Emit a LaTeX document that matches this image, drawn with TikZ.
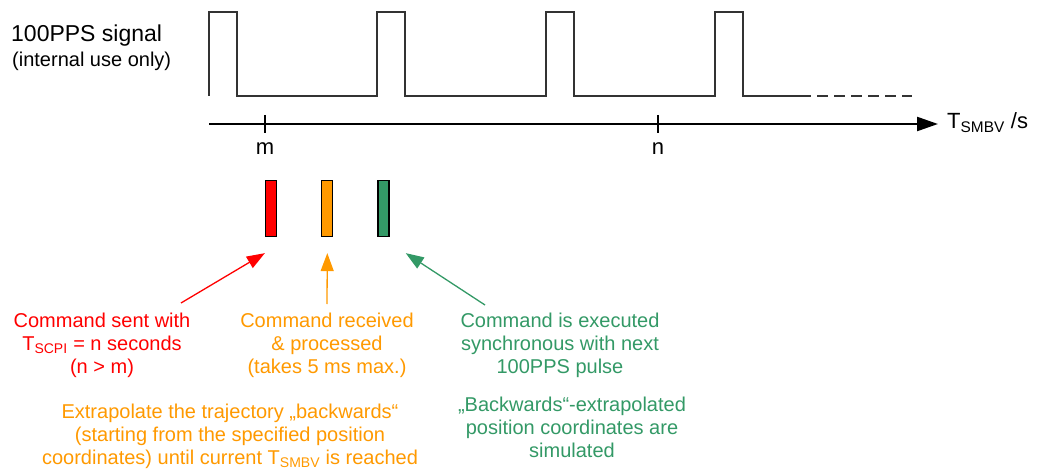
\documentclass[tikz,border=0pt]{standalone}
\usepackage{fontspec}
\setmainfont{Liberation Sans}
\usepackage{xcolor}
\usetikzlibrary{arrows.meta}
\usetikzlibrary{positioning}
\definecolor{sentred}{HTML}{FF0000}
\definecolor{procorange}{HTML}{FF9900}
\definecolor{execgreen}{HTML}{339966}
\tikzstyle{cmdbar} = [rectangle, draw=black, line width=1.3pt,
    minimum width=11pt, minimum height=56pt, inner sep=0pt]
\tikzstyle{note} = [align=center, inner sep=0pt,
    font=\fontsize{20}{23}\selectfont]
\tikzstyle{bignote} = [inner sep=0pt, font=\fontsize{22}{26}\selectfont]
\tikzstyle{signal} = [draw, line width=1.3pt, black!80]
\tikzstyle{axis} = [draw, line width=2.3pt, -{Triangle[length=21pt,width=14pt]}]
\tikzstyle{tick} = [draw, line width=2pt]
\tikzstyle{line} = [draw, line width=1.3pt, -{Triangle[length=18pt,width=13pt]}]

\begin{document}
\begin{tikzpicture}[x=1pt, y=-1pt]
    \useasboundingbox (0,0) rectangle (1043,473);
    % Place nodes
    \node [bignote, font=\fontsize{23}{27}\selectfont, anchor=west] (sig) at (11,36) {100PPS signal};
    \node [note, anchor=west] (sigsub) at (12,61) {(internal use only)};

    \coordinate (axstart) at (209,124);
    \node [bignote, anchor=base west] (tsmbv) at (947,129) {T\textsubscript{SMBV} /s};
    \coordinate (tickm) at (265,124);
    \coordinate (tickn) at (658,124);
    \node [bignote] (mlbl) at (265,149) {m};
    \node [bignote] (nlbl) at (658,149) {n};

    \node [cmdbar, fill=sentred] (redbar) at (271,208.5) {};
    \node [cmdbar, fill=procorange, right=44pt of redbar] (orangebar) {};
    \node [cmdbar, fill=execgreen, right=44pt of orangebar] (greenbar) {};

    \node [note, text=sentred] (senttxt) at (102,345)
        {Command sent with\\T\textsubscript{SCPI} = n seconds\\(n > m)};
    \node [note, text=procorange] (proctxt) at (327,345)
        {Command received\\\& processed\\(takes 5 ms max.)};
    \node [note, text=execgreen] (exectxt) at (560,345)
        {Command is executed\\synchronous with next\\100PPS pulse};
    \node [note, text=procorange] (extratxt) at (230,436)
        {Extrapolate the trajectory „backwards“\\(starting from the specified position\\coordinates) until current T\textsubscript{SMBV} is reached};
    \node [note, text=execgreen] (simtxt) at (572,427)
        {„Backwards“-extrapolated\\position coordinates are\\simulated};

    \coordinate (redtail) at (181,303);
    \coordinate (orangetail) at (327,304);
    \coordinate (greentail) at (485,305);
    \coordinate (redtip) at ([yshift=-16pt]redbar.south west);
    \coordinate (orangetip) at ([yshift=-16pt]orangebar.south);
    \coordinate (greentip) at ([shift={(16pt,-16pt)}]greenbar.south east);

    % signal
    \path [signal] (209,96) -- (209,12) -- (237,12) -- (237,96)
        -- (377,96) -- (377,12) -- (405,12) -- (405,96)
        -- (546,96) -- (546,12) -- (574,12) -- (574,96)
        -- (715,96) -- (715,12) -- (743,12) -- (743,96) -- (800,96);
    \path [signal, dash pattern=on 11pt off 6pt] (800,96) -- (912,96);

    % time axis
    \path [axis, shorten >=9pt] (axstart) -- (axstart -| tsmbv.west);
    \path [tick] ([yshift=9pt]tickm) -- ([yshift=-9pt]tickm);
    \path [tick] ([yshift=9pt]tickn) -- ([yshift=-9pt]tickn);

    \path [line, sentred] (redtail) -- (redtip);
    \path [line, procorange] (orangetail) -- (orangetip);
    \path [line, execgreen] (greentail) -- (greentip);
\end{tikzpicture}
\end{document}
